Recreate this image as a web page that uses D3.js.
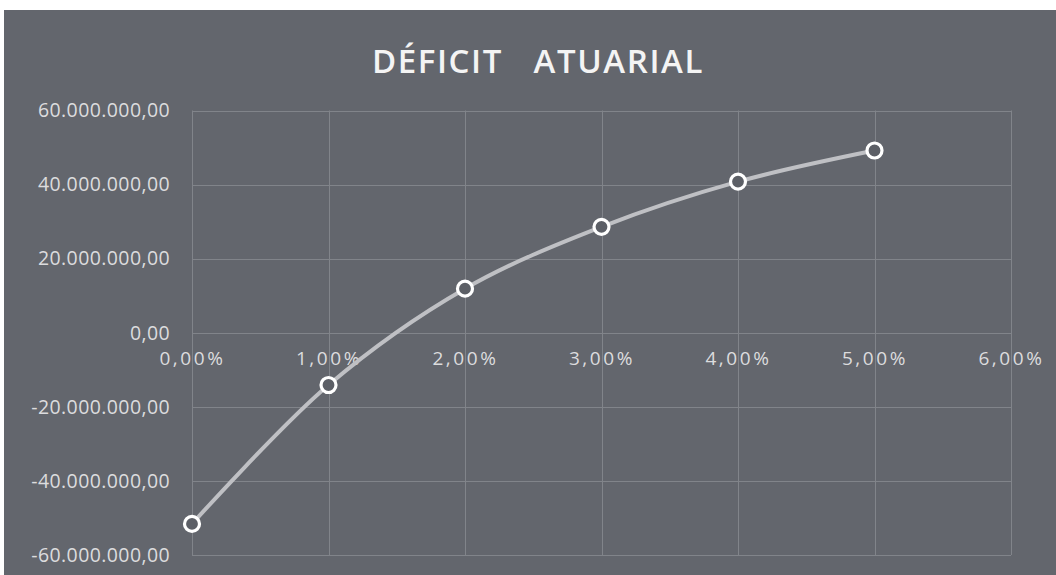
<!DOCTYPE html>
<html>
<head>
<meta charset="utf-8">
<script src="https://cdn.jsdelivr.net/npm/d3@7"></script>
<style>
  html, body { margin: 0; padding: 0; background: #ffffff; }
  svg { display: block; }
</style>
</head>
<body>
<svg id="chart" width="1056" height="575"></svg>
<script>
// Taxa de juros (x) e déficit atuarial resultante (R$)
const rates = [0, 0.01, 0.02, 0.03, 0.04, 0.05];
const deficit = [-51600000, -14100000, 11900000, 28600000, 40800000, 49200000];
const xTicks = [0, 0.01, 0.02, 0.03, 0.04, 0.05, 0.06];
const yTicks = [-60000000, -40000000, -20000000, 0, 20000000, 40000000, 60000000];
const title = "DÉFICIT   ATUARIAL";

const ptBR = d3.formatLocale({
  decimal: ",", thousands: ".", grouping: [3], currency: ["R$", ""], minus: "-"
});
const fmtY = ptBR.format(",.2f");
const fmtX = ptBR.format(".2%");

const W = 1056, H = 575;
const svg = d3.select("#chart");

// panel
svg.append("rect").attr("x", 4).attr("y", 10).attr("width", W - 4).attr("height", H - 10)
  .attr("fill", "#63666d");

const margin = { left: 192, right: W - 1011, top: 110.5, bottom: H - 555 };
const x = d3.scaleLinear().domain([0, 0.06]).range([margin.left, W - margin.right]);
const y = d3.scaleLinear().domain([-60000000, 60000000]).range([H - margin.bottom, margin.top]);

// gridlines
const grid = svg.append("g").attr("stroke", "#8c8e94").attr("stroke-width", 1).attr("opacity", 0.75);
grid.selectAll("line.h").data(yTicks).join("line")
  .attr("x1", x(0)).attr("x2", x(0.06))
  .attr("y1", d => Math.round(y(d)) + 0.5).attr("y2", d => Math.round(y(d)) + 0.5);
grid.selectAll("line.v").data(xTicks).join("line")
  .attr("y1", y(60000000)).attr("y2", y(-60000000))
  .attr("x1", d => Math.round(x(d)) + 0.5).attr("x2", d => Math.round(x(d)) + 0.5);

// y axis labels
const yAxis = d3.axisLeft(y).tickValues(yTicks).tickFormat(fmtY).tickSize(0).tickPadding(22);
svg.append("g").attr("transform", `translate(${x(0)},0)`).call(yAxis)
  .call(g => g.select(".domain").remove())
  .call(g => g.selectAll("text")
    .attr("fill", "#dcdcde").attr("font-family", "'Open Sans', sans-serif")
    .attr("font-size", 19.5).attr("letter-spacing", "0.4px"));

// x axis labels, hanging below the zero line
const xAxis = d3.axisBottom(x).tickValues(xTicks).tickFormat(fmtX).tickSize(0).tickPadding(19);
svg.append("g").attr("transform", `translate(0,${y(0)})`).call(xAxis)
  .call(g => g.select(".domain").remove())
  .call(g => g.selectAll("text")
    .attr("fill", "#dcdcde").attr("font-family", "'Open Sans', sans-serif")
    .attr("font-size", 19).attr("letter-spacing", "2.6px"));

// title
svg.append("text").attr("x", 538).attr("y", 73).attr("text-anchor", "middle")
  .attr("fill", "#f4f4f4").attr("font-family", "'Open Sans', sans-serif")
  .attr("font-weight", 600).attr("font-size", 33).attr("letter-spacing", "1.6px")
  .style("white-space", "pre").text(title);

// smoothed series line
const pts = rates.map((r, i) => [r, deficit[i]]);
const line = d3.line().x(d => x(d[0])).y(d => y(d[1])).curve(d3.curveCatmullRom.alpha(0.5));
svg.append("path").attr("d", line(pts)).attr("fill", "none")
  .attr("stroke", "#bfc0c4").attr("stroke-width", 4).attr("stroke-linecap", "round");

// markers
svg.append("g").selectAll("circle").data(pts).join("circle")
  .attr("cx", d => x(d[0])).attr("cy", d => y(d[1])).attr("r", 7.5)
  .attr("fill", "#5c5f66").attr("stroke", "#ffffff").attr("stroke-width", 3.2);
</script>
</body>
</html>
